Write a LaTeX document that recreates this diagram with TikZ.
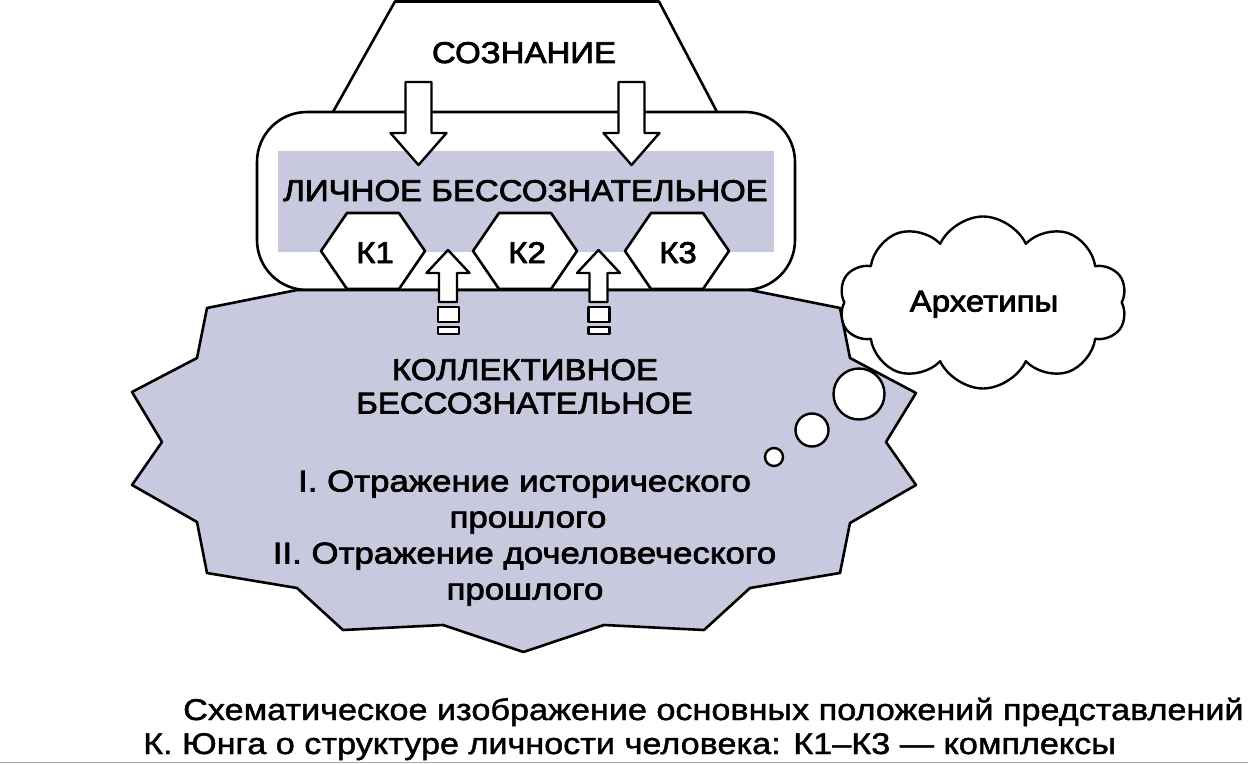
\documentclass[tikz,border=0pt]{standalone}
\usepackage{fontspec}
\setmainfont{Liberation Sans}
\newfontfamily\capsfont{Liberation Sans}[FakeStretch=1.10,FakeBold=2.5]
\newfontfamily\romfont{Liberation Sans}[FakeStretch=1.16,FakeBold=2.5]
\newfontfamily\captfont{Liberation Sans}[FakeStretch=1.14,FakeBold=1.5]
\usetikzlibrary{shapes.symbols}
\definecolor{lav}{RGB}{200,201,222}
\begin{document}
\begin{tikzpicture}[x=1pt,y=-1pt,line join=round,
  outl/.style={draw=black,line width=2.6pt},
  whitefill/.style={outl,fill=white},
  arrst/.style={draw=black,line width=2.4pt,fill=white},
  big/.style={font=\capsfont\fontsize{30}{34}\selectfont,inner sep=0pt,anchor=base},
  rom/.style={font=\romfont\fontsize{30}{34}\selectfont,inner sep=0pt,anchor=base},
  capt/.style={font=\captfont\fontsize{30}{34}\selectfont,inner sep=0pt,anchor=base west},
  bubble/.style={circle,draw=black,line width=2.4pt,fill=white,inner sep=0pt}]
\useasboundingbox (0,0) rectangle (1248,765);
\fill[white] (0,0) rectangle (1248,765);
% consciousness trapezoid
\draw[whitefill] (333,112) -- (395,1.5) -- (659,1.5) -- (717,112);
% personal unconscious
\draw[whitefill,rounded corners=50pt] (257,112) rectangle (795,290);
\fill[lav] (278,151) rectangle (774,252);
% collective unconscious (star)
\draw[outl,fill=lav] (297,290) -- (207,308) -- (197,358) -- (132,392) -- (162,442) -- (132,485)
  -- (197,522) -- (207,573) -- (297,588) -- (343,630) -- (443,625) -- (523.5,652)
  -- (604,625) -- (704,630) -- (750,588) -- (840,573) -- (850,523) -- (916,485)
  -- (886,442) -- (916,393) -- (850,358) -- (840,308) -- (750,290) -- cycle;
% hexagons
\coordinate (c1) at (373,251);
\coordinate (c2) at (525,251);
\coordinate (c3) at (677,251);
\foreach \c in {c1,c2,c3}{
  \draw[whitefill] ([shift={(-52,0)}]\c) -- ([shift={(-26,-38)}]\c) -- ([shift={(26,-38)}]\c)
    -- ([shift={(52,0)}]\c) -- ([shift={(26,38)}]\c) -- ([shift={(-26,38)}]\c) -- cycle;
}
\node[big] (k1) at (375,263) {К1};
\node[big] (k2) at (527,263) {К2};
\node[big] (k3) at (678,263) {К3};
% down arrows
\coordinate (da1) at (418.5,165);
\coordinate (da2) at (631.5,165);
\foreach \a in {da1,da2}{
  \draw[arrst] (\a) -- ++(-28,-32) -- ++(15,0) -- ++(0,-51) -- ++(26,0) -- ++(0,51) -- ++(15,0) -- cycle;
}
% up arrows
\coordinate (ua1) at (448,250);
\coordinate (ua2) at (598.5,250);
\foreach \a in {ua1,ua2}{
  \draw[arrst] (\a) -- ++(21.5,23) -- ++(-12.5,0) -- ++(0,29) -- ++(-18,0) -- ++(0,-29) -- ++(-12.5,0) -- cycle;
  \draw[arrst] ([shift={(-10,57)}]\a) rectangle ([shift={(11,72)}]\a);
  \draw[arrst] ([shift={(-10,77)}]\a) rectangle ([shift={(11,84)}]\a);
}
% thought bubbles
\node[bubble,minimum size=51pt] (b1) at (859,394) {};
\node[bubble,minimum size=33pt] (b2) at (812,430) {};
\node[bubble,minimum size=18pt] (b3) at (774,457) {};
% cloud
\node[cloud,cloud puffs=10,cloud puff arc=130,cloud ignores aspect,draw=black,line width=2.4pt,fill=white,
  minimum width=288pt,minimum height=172pt,inner sep=0pt] (cl) at (983,302.5) {};
\node[big] (arch) at (984,311.5) {Архетипы};
% texts
\node[big] (soz) at (524,63) {СОЗНАНИЕ};
\node[big] (lb) at (525.5,201) {ЛИЧНОЕ БЕССОЗНАТЕЛЬНОЕ};
\node[big] (kb1) at (525,380) {КОЛЛЕКТИВНОЕ};
\node[big] (kb2) at (524.5,413.5) {БЕССОЗНАТЕЛЬНОЕ};
\node[rom] (t1) at (524.5,491.5) {I. Отражение исторического};
\node[rom] (t2) at (528,527.5) {прошлого};
\node[rom] (t3) at (524.5,563.5) {II. Отражение дочеловеческого};
\node[rom] (t4) at (525,599.5) {прошлого};
% caption
\node[capt] (cap1) at (183,720) {Схематическое изображение основных положений представлений};
\node[capt] (cap2) at (143,754) {К. Юнга о структуре личности человека: К1–К3 — комплексы};
\draw[gray!70,line width=1.2pt] (0,762.5) -- (1248,762.5);
\end{tikzpicture}
\end{document}
